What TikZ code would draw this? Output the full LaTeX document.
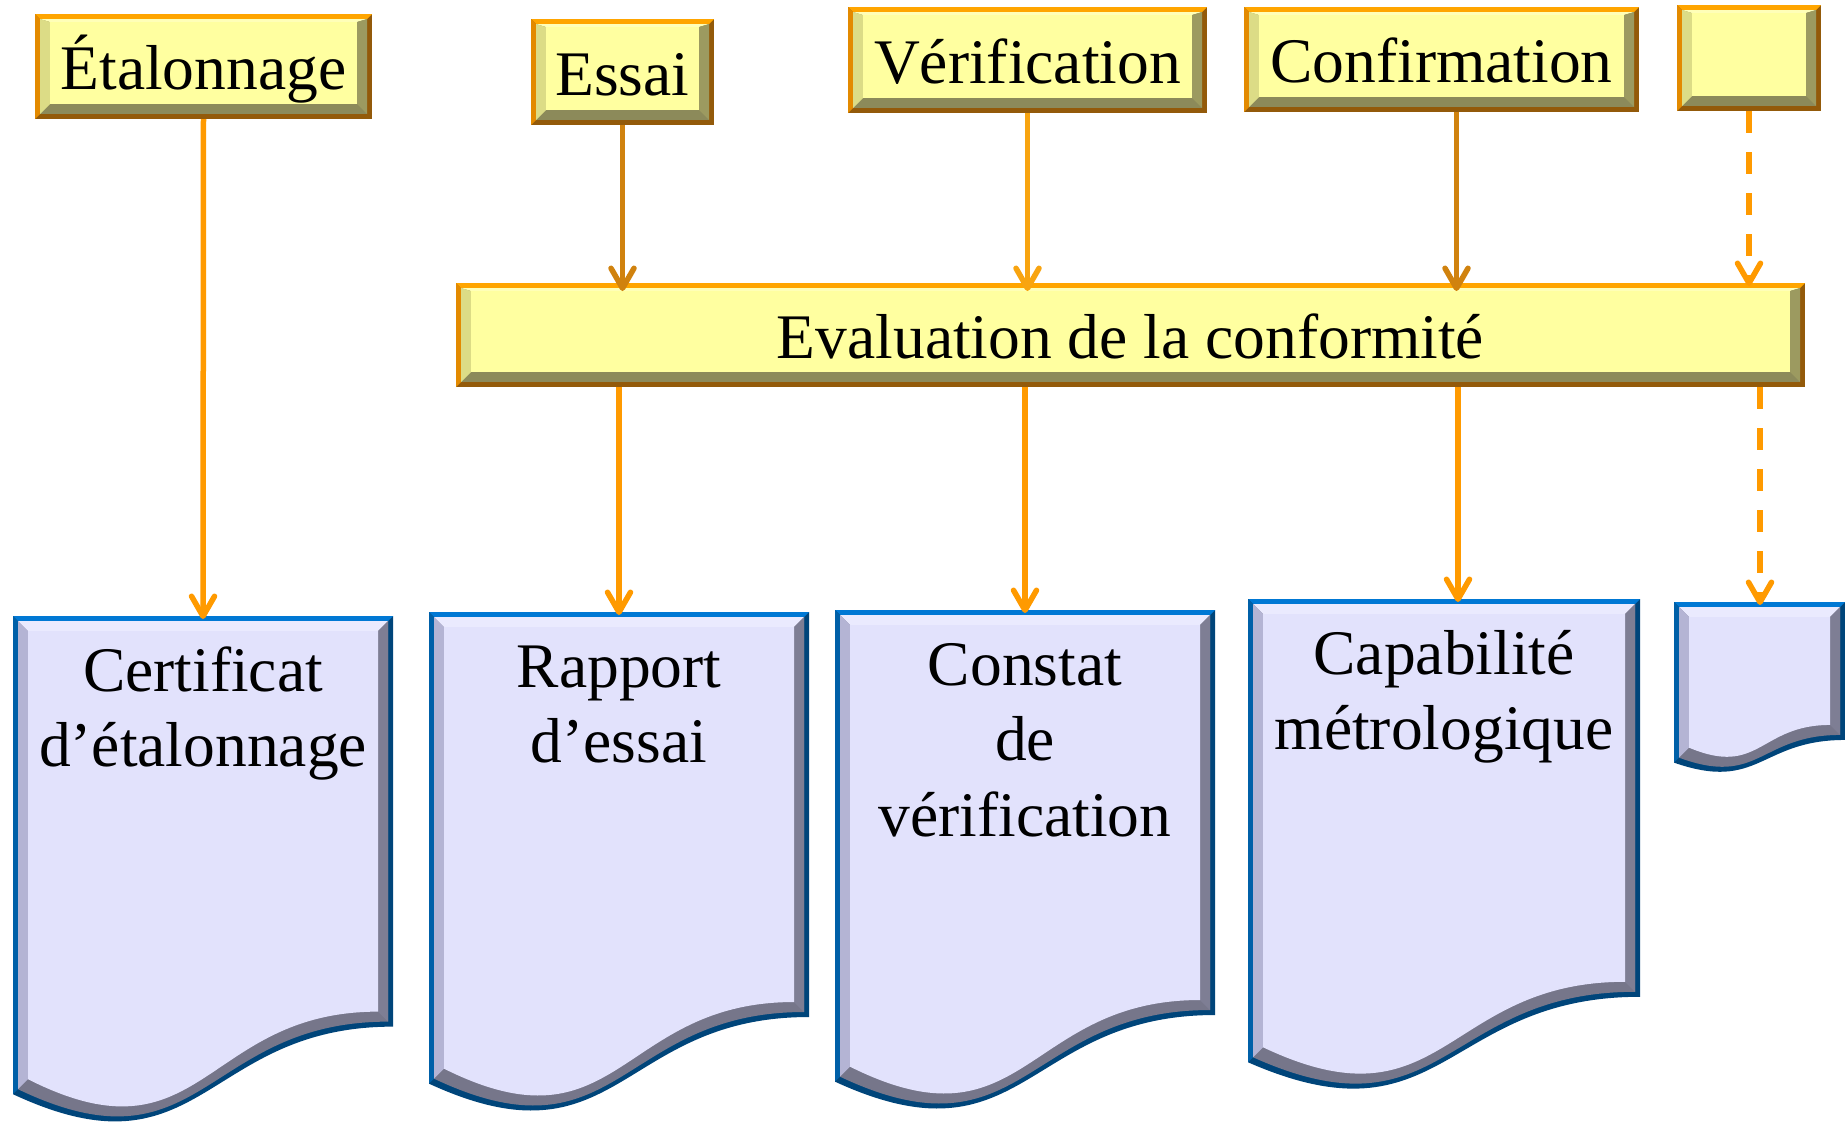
\documentclass[tikz,border=0pt]{standalone}
\usepackage{fontspec}
\setmainfont{Liberation Serif}
\usetikzlibrary{arrows.meta}

% yellow bevelled boxes
\definecolor{ybordT}{HTML}{FFA500}
\definecolor{ybordL}{HTML}{E38A00}
\definecolor{ybordD}{HTML}{935A0A}
\definecolor{yface}{HTML}{FFFFA0}
\definecolor{ybevT}{HTML}{FFFFB8}
\definecolor{ybevL}{HTML}{DCDC86}
\definecolor{ybevR}{HTML}{9C9A60}
\definecolor{ybevB}{HTML}{8C8A5A}
% lavender document sheets
\definecolor{dbordT}{HTML}{0078D4}
\definecolor{dbordL}{HTML}{0060A8}
\definecolor{dbordD}{HTML}{00457A}
\definecolor{dface}{HTML}{E2E2FC}
\definecolor{dbevT}{HTML}{EAEAFE}
\definecolor{dbevL}{HTML}{B4B4D4}
\definecolor{dbevR}{HTML}{7E7E94}
\definecolor{dbevB}{HTML}{76768A}
% connectors
\definecolor{arrowA}{HTML}{FF9A00}
\definecolor{arrowB}{HTML}{D0820E}
\definecolor{arrowC}{HTML}{F8A410}

% bevel drawn inside a rectangular node (border 5, bevel 10, top bevel 3)
\newcommand\yellowbevel{%
  \pgfpointanchor{path picture bounding box}{south west}\pgfgetlastxy{\bxa}{\bya}%
  \pgfpointanchor{path picture bounding box}{north east}\pgfgetlastxy{\bxb}{\byb}%
  \fill[ybordD] (\bxa,\bya) rectangle (\bxb,\byb);
  \fill[ybordT] (\bxa,\byb) -- (\bxb,\byb) -- ({\bxb-5pt},{\byb-5pt}) -- ({\bxa+5pt},{\byb-5pt}) -- cycle;
  \fill[ybordL] (\bxa,\byb) -- ({\bxa+5pt},{\byb-5pt}) -- ({\bxa+5pt},{\bya+5pt}) -- (\bxa,\bya) -- cycle;
  \fill[ybevB] ({\bxa+5pt},{\bya+5pt}) rectangle ({\bxb-5pt},{\byb-5pt});
  \fill[ybevT] ({\bxa+5pt},{\byb-5pt}) -- ({\bxb-5pt},{\byb-5pt}) -- ({\bxb-15pt},{\byb-8pt}) -- ({\bxa+15pt},{\byb-8pt}) -- cycle;
  \fill[ybevL] ({\bxa+5pt},{\byb-5pt}) -- ({\bxa+15pt},{\byb-8pt}) -- ({\bxa+15pt},{\bya+15pt}) -- ({\bxa+5pt},{\bya+5pt}) -- cycle;
  \fill[ybevR] ({\bxb-5pt},{\byb-5pt}) -- ({\bxb-5pt},{\bya+5pt}) -- ({\bxb-15pt},{\bya+15pt}) -- ({\bxb-15pt},{\byb-8pt}) -- cycle;
  \fill[yface] ({\bxa+15pt},{\bya+15pt}) rectangle ({\bxb-15pt},{\byb-8pt});
}

% document outline inset by #1, filled with colour #2
\newcommand\sheetoutline[2]{%
  \fill[#2] (\shXa+#1,\shT+#1) -- (\shXb-#1,\shT+#1) -- (\shXb-#1,\shR-#1)
    .. controls (\shM,\shR-#1) and (\shM,\shC-#1) .. (\shXa+#1,\shL-#1) -- cycle;
}
% document sheet: left x, top y, right x, full height
\newcommand\docsheet[4]{%
  \pgfmathsetmacro\shXa{#1}\pgfmathsetmacro\shT{#2}%
  \pgfmathsetmacro\shXb{#3}\pgfmathsetmacro\shH{#4}%
  \pgfmathsetmacro\shR{\shT+0.802*\shH}%
  \pgfmathsetmacro\shL{\shT+0.934*\shH}%
  \pgfmathsetmacro\shC{\shT+1.107*\shH}%
  \pgfmathsetmacro\shM{(\shXa+\shXb)/2}%
  \sheetoutline{0}{dbordD}
  \fill[dbordT] (\shXa,\shT) -- (\shXb,\shT) -- (\shXb-5,\shT+5) -- (\shXa+5,\shT+5) -- cycle;
  \fill[dbordL] (\shXa,\shT) -- (\shXa+5,\shT+5) -- (\shXa+5,\shL-5) -- (\shXa,\shL) -- cycle;
  \sheetoutline{5}{dbevB}
  \fill[dbevT] (\shXa+5,\shT+5) -- (\shXb-5,\shT+5) -- (\shXb-15,\shT+15) -- (\shXa+15,\shT+15) -- cycle;
  \fill[dbevL] (\shXa+5,\shT+5) -- (\shXa+15,\shT+15) -- (\shXa+15,\shL-15) -- (\shXa+5,\shL-5) -- cycle;
  \fill[dbevR] (\shXb-5,\shT+5) -- (\shXb-5,\shR-5) -- (\shXb-15,\shR-15) -- (\shXb-15,\shT+15) -- cycle;
  \sheetoutline{15}{dface}
}

\tikzset{
  ybox/.style={rectangle, inner sep=0pt, outer sep=0pt, fill=yface,
    text height=46pt, text depth=0pt,
    font=\fontsize{63.5}{75}\selectfont, path picture={\yellowbevel}},
  doctext/.style={anchor=north, inner sep=0pt, outer sep=0pt,
    text height=75pt, font=\fontsize{63.5}{75.5}\selectfont},
  conn/.style={line width=5.5pt, color=arrowA,
    -{Straight Barb[length=20pt,width=23pt,round]}},
  dashedconn/.style={conn, dash pattern=on 22pt off 19pt}
}

\begin{document}
\begin{tikzpicture}[x=1pt, y=-1pt]
\fill[white] (0,0) rectangle (1845,1122);
\useasboundingbox (0,0) rectangle (1845,1122);

% document sheets
\docsheet{13}{616}{393}{512}
\docsheet{429}{612}{809}{505}
\docsheet{835}{610}{1215}{505}
\docsheet{1248}{599}{1640}{496}
\docsheet{1674}{602}{1845}{172}

% top boxes
\node[ybox, minimum width=337pt, minimum height=105pt] (etal) at (203.5,66.5) {Étalonnage};
\node[ybox, minimum width=183pt, minimum height=106pt] (essai) at (622.5,72) {Essai};
\node[ybox, minimum width=359pt, minimum height=106pt] (verif) at (1027.5,60) {Vérification};
\node[ybox, minimum width=395pt, minimum height=105pt] (conf) at (1441.5,59.5) {Confirmation};
\node[ybox, minimum width=144pt, minimum height=106pt] (blank) at (1749,58) {};

% central box
\node[ybox, minimum width=1349pt, minimum height=104pt] (eval) at (1130.5,335) {Evaluation de la conformité};

% document texts
\node[doctext] (cert) at (203,616) {\parbox[t]{400pt}{\centering Certificat\\d’étalonnage}};
\node[doctext] (rapport) at (619,612) {\parbox[t]{400pt}{\centering Rapport\\d’essai}};
\node[doctext] (constat) at (1025,610) {\parbox[t]{400pt}{\centering Constat\\de\\vérification}};
\node[doctext] (capab) at (1444,599) {\parbox[t]{420pt}{\centering Capabilité\\métrologique}};
\node[doctext] (other) at (1760,602) {};

% connectors
\draw[conn] (etal.south) -- ([yshift=-3pt]cert.north);
\draw[conn, color=arrowB] (essai.south) -- ([yshift=-8pt]essai.south |- eval.north);
\draw[conn, color=arrowC] (verif.south) -- ([yshift=-8pt]verif.south |- eval.north);
\draw[conn, color=arrowB] ([xshift=15pt]conf.south) -- ([xshift=15pt,yshift=-8pt]conf.south |- eval.north);
\draw[dashedconn] (blank.south) -- ([yshift=-3pt]blank.south |- eval.north);
\draw[conn] (eval.south -| rapport.north) -- ([yshift=-3pt]rapport.north);
\draw[conn] (eval.south -| constat.north) -- ([yshift=-3pt]constat.north);
\draw[conn] ([xshift=14pt]eval.south -| capab.north) -- ([xshift=14pt,yshift=-3pt]capab.north);
\draw[dashedconn] (eval.south -| other.north) -- ([yshift=-3pt]other.north);
\end{tikzpicture}
\end{document}
